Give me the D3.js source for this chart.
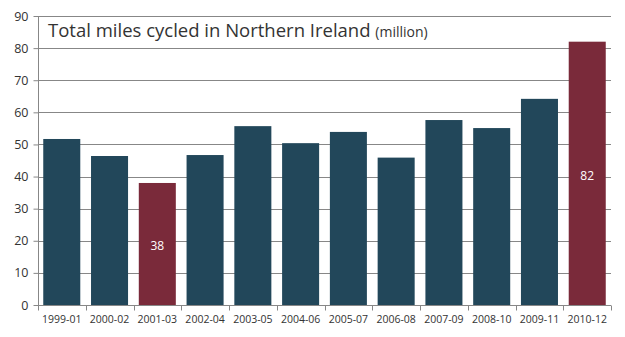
<!DOCTYPE html>
<html>
<head>
<meta charset="utf-8">
<script src="https://cdn.jsdelivr.net/npm/d3@7"></script>
<style>
  html, body { margin: 0; padding: 0; background: #fff; }
  svg { display: block; font-family: "Open Sans", sans-serif; }
</style>
</head>
<body>
<svg id="chart" width="625" height="337"></svg>
<script>
// Rolling three-year periods and total miles cycled (million)
const periods = ["1999-01", "2000-02", "2001-03", "2002-04", "2003-05", "2004-06",
                 "2005-07", "2006-08", "2007-09", "2008-10", "2009-11", "2010-12"];
const miles = [51.7, 46.4, 38, 46.7, 55.7, 50.4, 53.9, 45.9, 57.6, 55.1, 64.2, 82];
// Periods highlighted in red and given a value label
const highlighted = ["2001-03", "2010-12"];
const yTicks = [0, 10, 20, 30, 40, 50, 60, 70, 80, 90];

const svg = d3.select("#chart");
const plotLeft = 38, plotRight = 611, plotTop = 16, plotBottom = 305;

const x = d3.scaleBand().domain(periods).range([plotLeft, plotRight]).paddingInner(0.225).paddingOuter(0.11);
const y = d3.scaleLinear().domain([0, 90]).range([plotBottom, plotTop]);

const grid = "#878787";

// horizontal gridlines
svg.append("g")
  .selectAll("line")
  .data(yTicks.filter(d => d > 0))
  .join("line")
  .attr("x1", plotLeft).attr("x2", plotRight)
  .attr("y1", d => Math.round(y(d)) + 0.5).attr("y2", d => Math.round(y(d)) + 0.5)
  .attr("stroke", grid).attr("stroke-width", 1);

// bars
svg.append("g")
  .selectAll("rect")
  .data(periods)
  .join("rect")
  .attr("x", d => x(d))
  .attr("width", x.bandwidth())
  .attr("y", (d, i) => y(miles[i]))
  .attr("height", (d, i) => y(0) - y(miles[i]))
  .attr("fill", d => highlighted.includes(d) ? "#7a2a3a" : "#22475a");

// value labels inside the highlighted bars
svg.append("g")
  .selectAll("text")
  .data(periods.filter(d => highlighted.includes(d)))
  .join("text")
  .attr("x", d => x(d) + x.bandwidth() / 2)
  .attr("y", d => y(miles[periods.indexOf(d)] / 2) + 3)
  .attr("text-anchor", "middle")
  .attr("dominant-baseline", "middle")
  .attr("fill", "#ffffff")
  .attr("font-size", 12)
  .text(d => d3.format("d")(miles[periods.indexOf(d)]));

// y axis
const yAxis = svg.append("g")
  .attr("transform", `translate(${plotLeft + 0.5},0)`)
  .call(d3.axisLeft(y).tickValues(yTicks).tickSize(5).tickPadding(5).tickFormat(d3.format("d")));
yAxis.select(".domain").attr("stroke", grid).attr("d", `M0,${plotTop}V${plotBottom}`);
yAxis.selectAll(".tick line").attr("stroke", grid);
yAxis.selectAll(".tick text").attr("fill", "#333").attr("font-size", 12.5)
  .attr("font-family", "Open Sans, sans-serif");

// x axis with ticks between categories
const xAxis = svg.append("g")
  .attr("transform", `translate(0,${Math.round(plotBottom) + 0.5})`)
  .call(d3.axisBottom(x).tickSize(0).tickPadding(10));
xAxis.select(".domain").attr("stroke", grid).attr("d", `M${plotLeft},0H${plotRight}`);
xAxis.selectAll(".tick text").attr("fill", "#333").attr("font-size", 10.5)
  .attr("font-family", "Open Sans, sans-serif");
const bounds = d3.range(periods.length + 1).map(i => plotLeft + (plotRight - plotLeft) * i / periods.length);
xAxis.append("g").selectAll("line")
  .data(bounds)
  .join("line")
  .attr("x1", d => Math.round(d) + 0.5).attr("x2", d => Math.round(d) + 0.5)
  .attr("y1", 0).attr("y2", 5)
  .attr("stroke", grid);

// title
const title = svg.append("text")
  .attr("x", 48).attr("y", 37)
  .attr("fill", "#333")
  .attr("font-size", 18.5);
title.append("tspan").text("Total miles cycled in Northern Ireland ");
title.append("tspan").attr("font-size", 14).text("(million)");
</script>
</body>
</html>
